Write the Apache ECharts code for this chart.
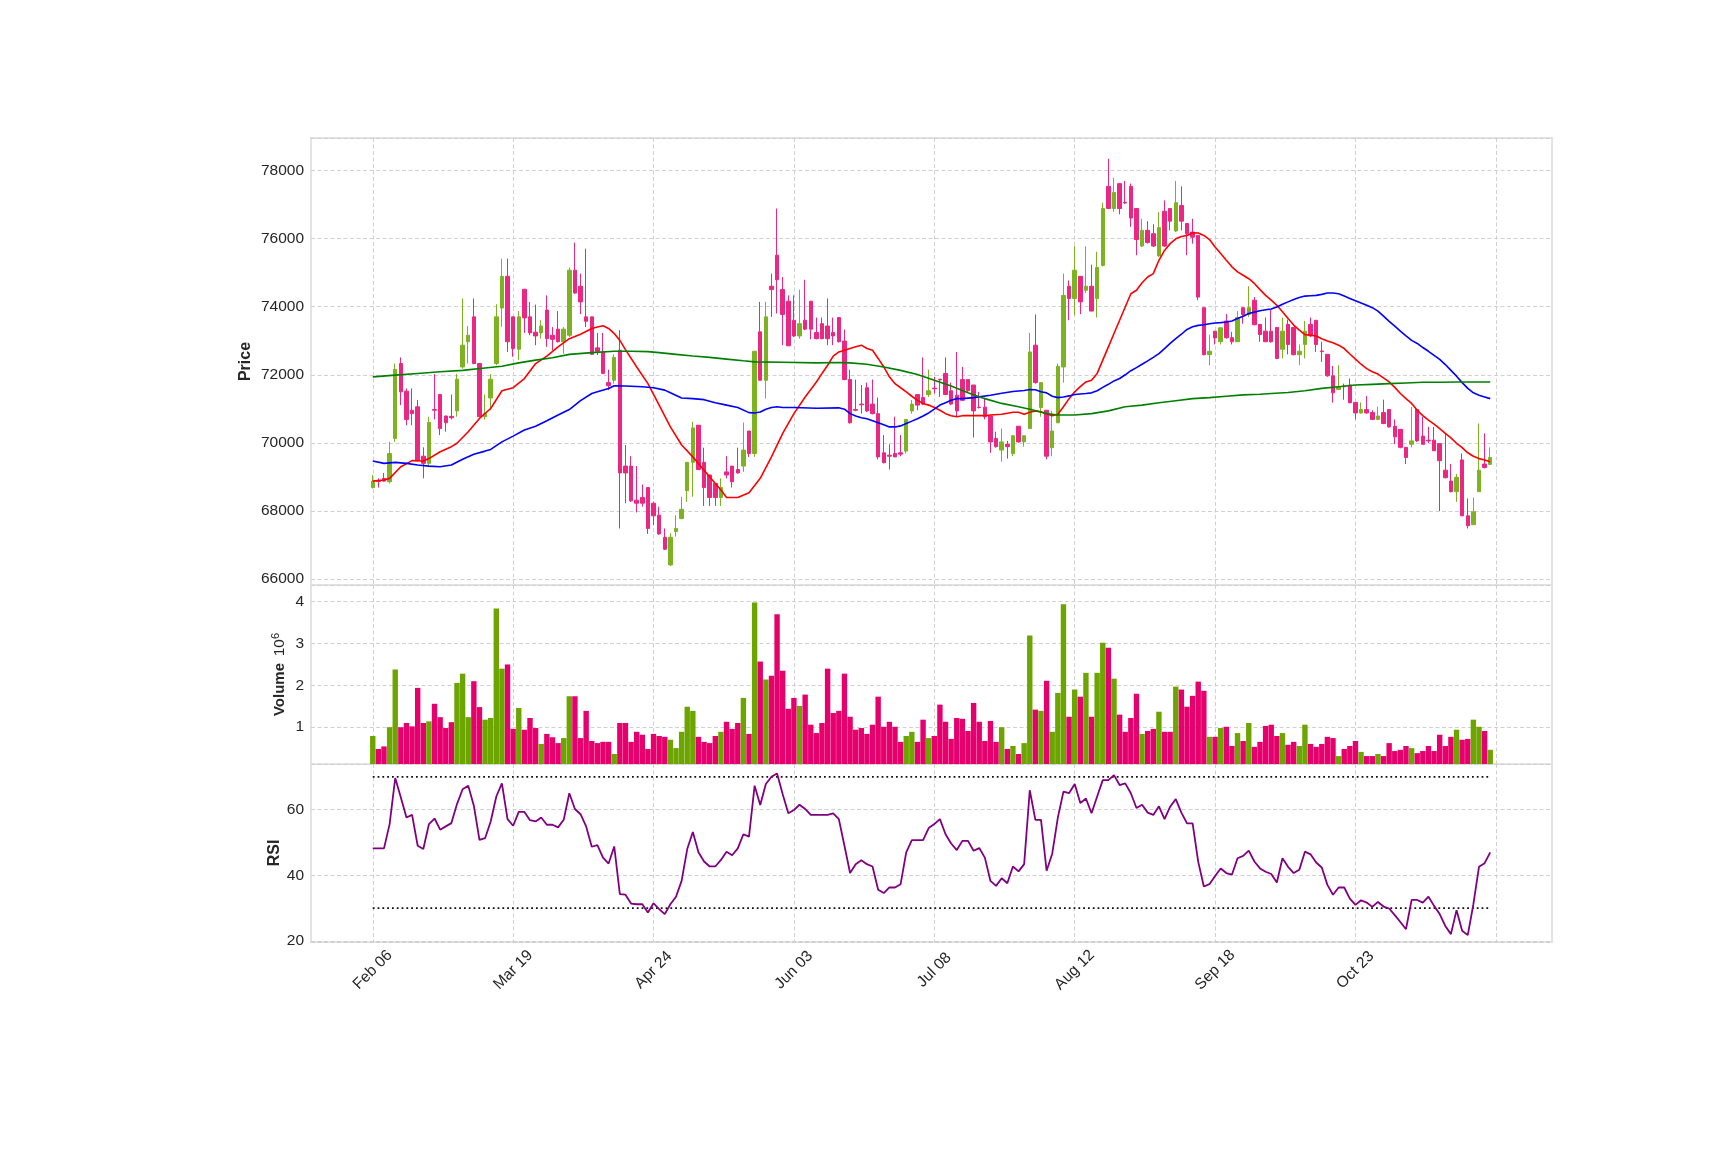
<!DOCTYPE html>
<html><head><meta charset="utf-8">
<script src="https://cdn.jsdelivr.net/npm/echarts@6/dist/echarts.min.js"></script>
<style>html,body{margin:0;padding:0;background:#fff;}#c{width:1725px;height:1150px;}</style>
</head><body><div id="c"></div><script>
const tickLabels = ['Feb 06','Mar 19','Apr 24','Jun 03','Jul 08','Aug 12','Sep 18','Oct 23'];
// [open, high, low, close]
const candles = [
[68690,69060,68660,68880],[68900,68960,68690,68870],[68960,69120,68860,68880],[68860,70030,68810,69690],[70130,72330,70030,72160],
[72330,72510,71110,71500],[71520,71600,70520,70690],[70960,71600,70520,70860],[71060,71260,69450,69500],[69610,69870,68960,69400],
[69400,70770,69350,70600],[70980,72020,70690,70960],[71420,71440,70230,70420],[70790,70800,70330,70590],[70780,71420,70690,70740],
[70940,72020,70770,71870],[72230,74240,72180,72870],[72970,73430,72330,73160],[73700,74240,72310,72330],[72330,72330,70770,70770],
[70770,71420,70690,70860],[71320,72020,70960,71870],[72330,74070,72280,73700],[73960,75410,73410,74890],[74890,75410,72670,72970],
[73700,73700,72530,72770],[72750,73870,72430,73700],[74510,74510,73230,73670],[73700,74140,73160,73230],[73250,74060,72870,73140],
[73230,73600,73060,73430],[73900,74330,72820,73060],[73160,73400,72720,73040],[73340,73870,72950,72970],[72970,73400,72620,73340],
[73160,75150,73110,75070],[75070,75880,74380,74400],[74600,74970,73780,74140],[73700,75700,73400,73570],[73700,73700,72580,72600],
[72790,73230,72580,72690],[72670,73230,72020,72040],[71770,72150,71550,71680],[71840,72600,71740,72510],[72720,73310,67490,69120],
[69320,69940,68230,69120],[69320,69610,68270,68300],[68320,69320,67960,68230],[68400,68780,68130,68230],[68690,68690,67330,67490],
[68230,68280,67590,67860],[67880,68130,67300,67330],[67230,67490,66860,66880],[66420,67350,66390,67230],[67400,67880,67250,67490],
[67780,68420,67760,68050],[68600,69430,68270,69430],[69430,70620,68420,70440],[70520,70520,69200,69220],[69430,69860,68150,68690],
[69060,69060,68150,68400],[68810,68810,68150,68400],[68400,68960,68150,68690],[69150,69610,68960,69060],[69320,69320,68690,68860],
[69220,69860,69100,69120],[69320,70600,69150,69790],[70350,70350,69590,69690],[69690,72690,69590,72690],[73260,74140,71840,71840],
[71840,74140,71300,73700],[74600,74970,73700,74500],[75510,76880,73800,74790],[74500,74870,72870,73770],[74160,74330,72850,72850],
[73600,74330,73110,73140],[73140,74500,73060,73500],[73600,74790,73310,73340],[74160,74160,73040,73340],[73240,73680,73040,73060],
[73500,73680,73040,73060],[73430,74240,72870,73060],[73240,73680,72870,73140],[73680,73680,72950,72970],[72990,73330,71840,71860],
[71860,72150,70570,70590],[70980,71860,70930,70960],[71140,71700,70860,71120],[71620,71770,70910,70940],[71140,71860,70840,70860],
[70860,71330,69520,69590],[69710,70230,69400,69420],[69640,69960,69220,69610],[69690,70770,69590,69590],[69710,70230,69610,69670],
[69760,70690,69690,70690],[70940,71260,70860,71140],[71420,71420,70960,71110],[71330,72510,71110,71140],[71420,72150,71350,71530],
[71610,71940,71450,71590],[71870,71870,71350,71850],[72040,72510,71400,71420],[71530,71770,71110,71140],[71400,72670,70770,70940],
[71860,72230,71230,71250],[71860,71860,71500,71530],[71700,71700,70160,70940],[71050,71500,71010,71040],[71050,71330,70690,70770],
[70790,70790,69710,70030],[70130,70330,69860,69890],[69790,70420,69450,70030],[69960,70060,69540,69890],[69690,70230,69610,70210],
[70490,70490,70010,70030],[70030,70230,69890,70210],[70420,73230,70420,72670],[72870,73770,71740,71770],[71040,71770,70770,71770],
[70960,70960,69520,69610],[69860,70940,69610,70350],[70590,72330,70590,72250],[72230,74970,71770,74330],[74600,74770,73600,74240],
[74240,75770,73750,75070],[74890,74890,73780,74140],[74480,75770,74400,74600],[74600,75230,73870,73870],[74240,75610,73680,75150],
[75210,77050,75180,76880],[77530,78340,76880,76880],[76880,77780,76780,77350],[77610,77610,76710,76880],[77060,77690,77020,77040],
[77530,77610,76340,76600],[76880,76880,75510,75970],[75780,76580,75750,76240],[76240,76510,75850,75880],[76140,76420,75750,75780],
[75490,76780,75460,76320],[76800,77120,75750,75780],[76880,76880,76240,76510],[76220,77690,76190,77050],[76970,77530,76240,76510],
[76440,76440,75510,76140],[76190,76580,75850,76040],[76090,76090,74190,74280],[73970,73970,72570,72590],[72590,73180,72280,72690],
[73280,73280,72890,73080],[72970,73380,72890,73380],[73580,73780,73060,73090],[73090,73260,72890,72970],[72970,73870,72970,73680],
[73970,73970,73500,73770],[73770,74600,73700,73970],[74190,74280,73450,73470],[73480,73480,72970,73180],[73280,73680,72970,72970],
[73280,73910,72940,72970],[73390,73390,72460,72480],[72750,73680,72480,73280],[73480,73620,72600,72890],[73390,73390,72570,72590],
[72590,72890,72280,72690],[72890,73580,72480,73280],[73480,73680,73110,73140],[73600,73600,72670,72890],[72700,72970,72380,72680],
[72600,72600,71940,71970],[71970,72260,71180,71470],[71570,72280,71550,71650],[71670,71740,71270,71650],[71700,71890,71160,71180],
[71190,71190,70690,70880],[70880,71190,70860,70980],[70980,71380,70860,70880],[70890,70960,70670,70690],[70690,71060,70670,70790],
[70890,71270,70550,70570],[70980,70980,70450,70470],[70490,70690,69960,70180],[70400,70400,69840,69870],[69870,69870,69380,69570],
[69960,71060,69870,70060],[70980,70980,70030,70060],[70200,70770,69960,69960],[70080,70470,69990,70060],[70080,70470,69770,69770],
[69980,69980,68000,69480],[69200,70280,68960,68980],[68880,69380,68550,68570],[68570,69090,68270,68990],[69500,69690,67860,67860],
[67860,68370,67490,67570],[67600,68400,67600,67980],[68570,70570,68570,69200],[69380,70280,69250,69280],[69370,69870,69350,69570]
];
// volume in millions
const volumeM = [
0.79,0.48,0.54,1.00,2.38,1.00,1.10,1.02,1.94,1.10,
1.14,1.56,1.24,0.98,1.12,2.06,2.28,1.24,2.10,1.48,
1.18,1.22,3.84,2.40,2.50,0.96,1.46,0.94,1.22,0.98,
0.60,0.84,0.76,0.62,0.74,1.74,1.74,0.74,1.39,0.67,
0.62,0.65,0.65,0.36,1.10,1.10,0.65,0.89,0.82,0.48,
0.84,0.79,0.77,0.70,0.50,0.89,1.49,1.39,0.77,0.65,
0.62,0.79,0.89,1.13,0.96,1.10,1.70,0.84,3.98,2.57,
2.14,2.23,3.70,2.35,1.44,1.70,1.51,1.78,1.06,0.86,
1.10,2.40,1.34,1.39,2.28,1.25,0.94,0.98,0.84,1.06,
1.73,1.01,1.13,1.01,0.65,0.79,0.89,0.65,1.18,0.74,
0.79,1.54,1.13,0.72,1.22,1.20,0.91,1.58,1.13,0.67,
1.15,0.65,1.00,0.48,0.55,0.36,0.62,3.19,1.42,1.39,
2.11,0.89,1.82,3.94,1.25,1.90,1.73,2.30,1.25,2.30,
3.02,2.90,2.16,1.30,0.89,1.22,1.80,0.84,0.91,0.96,
1.37,0.89,0.89,1.97,1.90,1.49,1.75,2.09,1.87,0.77,
0.77,0.98,1.01,0.55,0.86,0.67,1.10,0.53,0.65,1.03,
1.06,0.79,0.86,0.58,0.65,0.55,1.06,0.60,0.53,0.60,
0.77,0.74,0.31,0.48,0.55,0.67,0.41,0.31,0.31,0.36,
0.31,0.62,0.43,0.46,0.55,0.50,0.38,0.43,0.55,0.43,
0.82,0.55,0.77,0.94,0.70,0.72,1.18,1.01,0.91,0.46
];
const rsi = [
48.2,48.2,48.2,55.6,69.6,63.7,57.6,58.4,49.0,48.0,
55.6,57.3,53.9,54.9,55.9,61.7,66.2,67.3,61.2,50.8,
51.3,56.4,64.0,68.0,57.1,55.1,59.3,59.3,56.8,56.4,
57.6,55.4,55.4,54.6,56.9,65.0,60.2,58.6,54.9,48.7,
49.2,45.4,43.6,48.8,34.3,34.1,31.4,31.2,31.2,28.7,
31.5,29.7,28.2,31.2,33.5,38.3,48.0,53.2,47.0,44.2,
42.7,42.7,44.7,47.2,46.1,48.2,52.5,51.8,67.3,61.4,
67.8,70.0,71.0,64.7,58.9,59.9,61.5,60.2,58.4,58.4,
58.4,58.4,58.9,57.1,49.0,40.7,43.4,44.6,43.4,42.7,
35.6,34.6,36.3,36.3,37.3,47.0,50.7,50.7,50.7,54.4,
55.6,57.1,52.5,49.7,47.7,50.5,50.5,47.5,48.3,45.4,
38.3,36.8,39.1,37.6,42.7,41.2,43.4,65.9,56.9,56.9,
41.4,46.6,57.6,65.5,65.0,67.8,62.0,63.4,58.9,64.0,
69.0,69.0,70.5,67.5,68.0,65.0,60.5,61.5,59.1,58.4,
61.0,57.1,60.9,63.2,59.1,55.8,55.8,44.1,36.6,37.3,
39.8,42.1,40.7,40.2,45.2,45.9,47.5,44.2,42.1,41.1,
40.4,37.8,45.2,42.6,40.7,41.7,47.2,46.4,43.9,42.4,
37.1,34.1,36.3,36.3,32.9,31.0,32.4,31.7,30.4,31.9,
30.5,29.9,27.9,25.8,23.6,32.5,32.5,31.7,33.5,30.7,
28.2,24.6,22.1,29.4,23.1,21.8,31.2,42.6,43.7,47.0
];
// moving averages: [day index, value]
const maRed = [[0,68880],[2,68910],[3,68960],[5,69300],[7,69480],[9,69470],[10,69540],[12,69740],[14,69890],[15,69990],[17,70330],[19,70720],[21,71010],[23,71530],[25,71620],[27,71890],[29,72330],[31,72550],[33,72820],[35,73060],[37,73190],[39,73360],[40,73400],[41,73440],[42,73360],[43,73210],[44,73010],[45,72740],[47,72230],[49,71740],[51,71110],[53,70470],[55,69940],[57,69590],[59,69200],[61,68810],[62,68620],[63,68400],[65,68400],[67,68540],[69,68960],[71,69590],[73,70280],[75,70860],[77,71350],[79,71790],[80,72040],[81,72280],[82,72550],[83,72670],[84,72720],[85,72770],[86,72820],[87,72870],[88,72770],[89,72720],[90,72480],[91,72230],[92,71940],[93,71740],[94,71620],[95,71500],[96,71370],[97,71250],[98,71160],[99,71110],[100,71040],[101,70960],[102,70860],[103,70800],[104,70770],[105,70800],[107,70800],[109,70800],[110,70820],[112,70840],[114,70900],[115,70900],[116,70840],[117,70900],[118,70940],[119,70910],[120,70860],[121,70800],[122,70840],[123,71060],[124,71300],[125,71500],[126,71650],[127,71790],[128,71840],[129,72040],[130,72430],[131,72820],[132,73210],[133,73600],[134,73990],[135,74380],[136,74480],[137,74700],[138,74870],[139,74970],[140,75360],[141,75650],[142,75850],[143,75990],[144,76060],[145,76090],[146,76170],[147,76160],[148,76090],[149,75970],[150,75750],[151,75560],[152,75360],[153,75170],[154,75020],[155,74920],[156,74820],[157,74680],[158,74500],[159,74330],[160,74190],[161,74040],[162,73850],[163,73650],[164,73460],[165,73310],[166,73180],[167,73160],[168,73140],[169,73060],[170,72990],[171,72940],[172,72870],[173,72770],[174,72610],[175,72460],[176,72310],[177,72180],[178,72090],[179,72020],[180,71910],[181,71790],[182,71630],[183,71450],[184,71300],[185,71160],[186,70960],[187,70800],[188,70670],[189,70550],[190,70420],[191,70280],[192,70150],[193,69990],[194,69860],[195,69710],[196,69610],[197,69540],[198,69500],[199,69450]];
const maBlue = [[0,69470],[2,69400],[4,69430],[6,69400],[8,69350],[10,69320],[12,69300],[14,69350],[16,69520],[18,69670],[20,69760],[21,69810],[23,70030],[25,70200],[27,70380],[29,70490],[31,70650],[33,70820],[35,70980],[37,71240],[39,71450],[40,71500],[42,71600],[43,71680],[45,71670],[48,71650],[50,71620],[52,71550],[53,71470],[55,71320],[57,71300],[59,71270],[61,71180],[63,71110],[65,71040],[67,70890],[68,70880],[69,70910],[70,70990],[71,71040],[72,71060],[73,71040],[75,71040],[79,71020],[83,71030],[84,70990],[85,70860],[86,70790],[87,70740],[88,70710],[89,70650],[90,70590],[91,70530],[92,70470],[93,70470],[94,70500],[95,70570],[96,70640],[97,70710],[98,70790],[99,70880],[100,70990],[101,71110],[102,71180],[103,71250],[104,71300],[105,71300],[107,71330],[110,71400],[112,71460],[114,71510],[116,71540],[117,71570],[118,71560],[119,71500],[120,71470],[121,71370],[122,71330],[123,71350],[124,71380],[125,71420],[127,71450],[128,71470],[129,71530],[130,71630],[131,71720],[132,71820],[133,71890],[134,72000],[135,72120],[136,72210],[137,72310],[138,72410],[139,72510],[140,72620],[141,72770],[142,72920],[143,73060],[144,73190],[145,73330],[146,73410],[147,73450],[148,73470],[149,73500],[150,73520],[151,73530],[152,73550],[153,73580],[154,73650],[155,73720],[156,73800],[157,73840],[158,73880],[159,73910],[160,73930],[161,73990],[162,74070],[163,74140],[164,74210],[165,74270],[166,74310],[167,74320],[168,74330],[169,74360],[170,74400],[171,74400],[172,74380],[173,74310],[174,74240],[175,74170],[176,74110],[177,74040],[178,73970],[179,73870],[180,73720],[181,73570],[182,73430],[183,73280],[184,73140],[185,73010],[186,72920],[187,72800],[188,72690],[189,72570],[190,72450],[191,72300],[192,72130],[193,71960],[194,71770],[195,71600],[196,71470],[197,71400],[198,71350],[199,71300]];
const maGreen = [[0,71940],[4,71990],[8,72040],[12,72090],[16,72130],[20,72200],[23,72250],[26,72350],[29,72430],[32,72500],[35,72600],[39,72650],[43,72690],[46,72690],[49,72680],[51,72650],[54,72600],[57,72550],[60,72510],[63,72460],[66,72410],[68,72380],[73,72370],[79,72350],[83,72360],[85,72350],[88,72310],[91,72230],[94,72130],[97,72010],[100,71840],[103,71670],[106,71470],[109,71300],[112,71160],[115,71060],[117,70990],[119,70910],[120,70860],[122,70820],[125,70820],[128,70860],[131,70940],[134,71060],[137,71110],[140,71180],[143,71240],[146,71300],[149,71330],[152,71370],[155,71410],[158,71430],[160,71450],[163,71480],[166,71530],[169,71600],[172,71650],[175,71700],[178,71720],[181,71740],[184,71760],[187,71780],[190,71780],[193,71790],[196,71790],[199,71790]];
const rsiBands = [70, 30];

const UP = '#7db320', DOWN = '#ec2683', VUP = '#6da500', VDOWN = '#e6006e';
const PAD_L = 11, PAD_R = 11;
const N = candles.length;
const cats = [];
for (let k = 0; k < PAD_L + N + PAD_R; k++) cats.push(String(k - PAD_L));
const isTick = (idx) => { const i = idx - PAD_L; return i >= 0 && i % 25 === 0; };
const pad = Array(PAD_L).fill('-');
const candleData = pad.concat(candles.map(d => [d[0], d[3], d[2], d[1]]));
const volData = pad.concat(candles.map((d, i) => ({value: volumeM[i], itemStyle: {color: d[3] >= d[0] ? VUP : VDOWN}})));
const shift = arr => arr.map(p => [p[0] + PAD_L, p[1]]);
const rsiData = rsi.map((v, i) => [i + PAD_L, v]);

const FONT = 'Liberation Sans, Arial, sans-serif';
const gridLine = {show: true, lineStyle: {color: '#d0d0d0', type: [4, 2.5], width: 1}};
const xBase = (gi) => ({
  type: 'category', gridIndex: gi, data: cats, boundaryGap: false,
  axisLine: {show: false}, axisTick: {show: false},
  splitLine: {show: true, interval: isTick, lineStyle: gridLine.lineStyle},
  axisLabel: {show: false}
});
const yLabel = {color: '#262626', fontFamily: FONT, fontSize: 15.5, margin: 7, showMinLabel: false, showMaxLabel: false, formatter: v => String(v)};

const chart = echarts.init(document.getElementById('c'), null, {renderer: 'canvas'});
chart.setOption({
  animation: false,
  backgroundColor: '#ffffff',
  grid: [
    {left: 311, width: 1241, top: 138, height: 447, show: true, borderColor: '#e3e3e3', borderWidth: 2},
    {left: 311, width: 1241, top: 585, height: 179, show: true, borderColor: '#e3e3e3', borderWidth: 2},
    {left: 311, width: 1241, top: 764, height: 178, show: true, borderColor: '#e3e3e3', borderWidth: 2}
  ],
  xAxis: [
    xBase(0), xBase(1),
    Object.assign(xBase(2), {axisLabel: {
      show: true, interval: (idx) => isTick(idx) && (idx - PAD_L) / 25 < tickLabels.length,
      rotate: 45, align: 'center', verticalAlign: 'middle', margin: 28,
      color: '#262626', fontFamily: FONT, fontSize: 15.5,
      formatter: (v, idx) => { const i = idx - PAD_L; return (i >= 0 && i % 25 === 0 && i / 25 < tickLabels.length) ? tickLabels[i / 25] : ''; }
    }})
  ],
  yAxis: [
    {type: 'value', gridIndex: 0, min: 65830, max: 78950, splitNumber: 6, scale: true,
     axisLine: {show: false}, axisTick: {show: false}, splitLine: gridLine, axisLabel: yLabel,
     name: 'Price', nameLocation: 'middle', nameGap: 57, nameMoveOverlap: false,
     nameTextStyle: {fontFamily: FONT, fontSize: 16, fontWeight: 'bold', color: '#262626'}},
    {type: 'value', gridIndex: 1, min: 0.12, max: 4.40, splitNumber: 4,
     axisLine: {show: false}, axisTick: {show: false}, splitLine: gridLine, axisLabel: yLabel,
     name: '{b|Volume}  {n|10}{s|6}', nameLocation: 'middle', nameGap: 21, nameMoveOverlap: false,
     nameTextStyle: {fontFamily: FONT, color: '#262626', rich: {
       b: {fontFamily: FONT, fontSize: 15, fontWeight: 'bold', color: '#262626', lineHeight: 20},
       n: {fontFamily: FONT, fontSize: 15.5, color: '#262626', lineHeight: 20},
       s: {fontFamily: FONT, fontSize: 11, color: '#262626', verticalAlign: 'top', lineHeight: 20}
     }}},
    {type: 'value', gridIndex: 2, min: 19.7, max: 73.9, splitNumber: 3,
     axisLine: {show: false}, axisTick: {show: false}, splitLine: gridLine, axisLabel: yLabel,
     name: 'RSI', nameLocation: 'middle', nameGap: 28, nameMoveOverlap: false,
     nameTextStyle: {fontFamily: FONT, fontSize: 16, fontWeight: 'bold', color: '#262626'}}
  ],
  series: [
    {type: 'candlestick', xAxisIndex: 0, yAxisIndex: 0, data: candleData, barWidth: 4,
     itemStyle: {color: UP, color0: DOWN, borderColor: UP, borderColor0: DOWN, borderWidth: 1}},
    {type: 'line', xAxisIndex: 0, yAxisIndex: 0, data: shift(maRed), showSymbol: false, symbol: 'none',
     lineStyle: {color: '#ff0000', width: 1.6}, z: 3},
    {type: 'line', xAxisIndex: 0, yAxisIndex: 0, data: shift(maBlue), showSymbol: false, symbol: 'none',
     lineStyle: {color: '#0000ff', width: 1.6}, z: 3},
    {type: 'line', xAxisIndex: 0, yAxisIndex: 0, data: shift(maGreen), showSymbol: false, symbol: 'none',
     lineStyle: {color: '#008000', width: 1.6}, z: 3},
    {type: 'bar', xAxisIndex: 1, yAxisIndex: 1, data: volData, barCategoryGap: '4%'},
    {type: 'line', xAxisIndex: 2, yAxisIndex: 2, data: rsiData, showSymbol: false, symbol: 'none',
     lineStyle: {color: '#800080', width: 1.8}, z: 3}
  ].concat(rsiBands.map(b => ({
    type: 'line', xAxisIndex: 2, yAxisIndex: 2, showSymbol: false, symbol: 'none', z: 2,
    data: candles.map((_, i) => [i + PAD_L, b]),
    lineStyle: {color: '#111111', width: 1.8, type: [1.8, 3]}
  })))
});
</script></body></html>
